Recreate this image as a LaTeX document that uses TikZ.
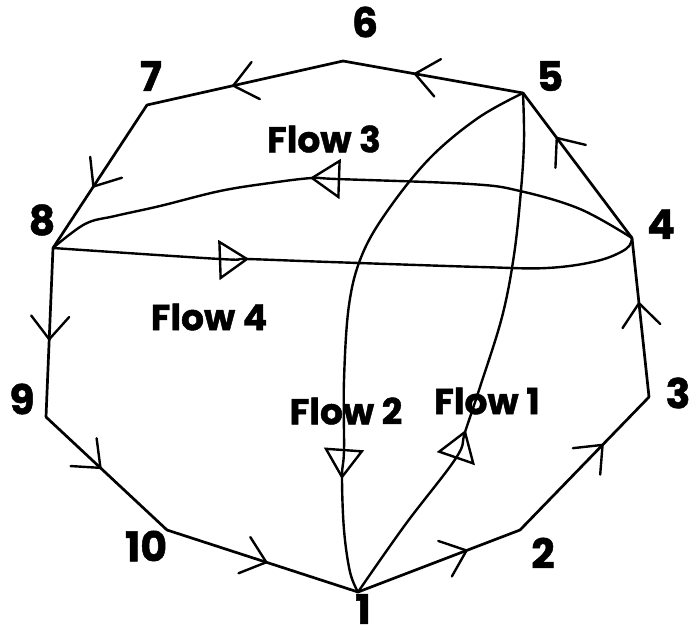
\documentclass[tikz,border=0pt]{standalone}
\usepackage{fontspec}
\setmainfont{Poppins}[BoldFeatures={FakeBold=1.2}]
\usetikzlibrary{decorations.markings}
\begin{document}
\begin{tikzpicture}[x=1pt,y=-1pt,
  edge/.style={line width=2.7pt, line cap=round},
  flow/.style={line width=2.4pt, line cap=round},
  chev/.style={postaction={decorate},
    decoration={markings, mark=at position #1 with
      {\draw[line width=2.4pt, line cap=round, line join=miter] (-23,19) -- (0,0) -- (-23,-19);}}},
  vlabel/.style={font=\bfseries\fontsize{41}{41}\selectfont, inner sep=0pt},
  flabel/.style={font=\bfseries\fontsize{36}{36}\selectfont, inner sep=0pt},
  flowtri/.pic={\draw[line width=2.4pt, line join=miter] (0,0) -- (-27,18) -- (-27,-18) -- cycle;}
]
\useasboundingbox (0,0) rectangle (690,638);

% vertices of the decagon
\coordinate (v1) at (358,592);
\coordinate (v2) at (520,530);
\coordinate (v3) at (649,397);
\coordinate (v4) at (632,238);
\coordinate (v5) at (523,93);
\coordinate (v6) at (343,61);
\coordinate (v7) at (147,105);
\coordinate (v8) at (53,248);
\coordinate (v9) at (46,417);
\coordinate (v10) at (167,530);

% vertex numbers
\node[vlabel] (n1) at (363,609) {1};
\node[vlabel] (n2) at (543,553) {2};
\node[vlabel] (n3) at (678,393) {3};
\node[vlabel] (n4) at (661,224) {4};
\node[vlabel] (n5) at (550,76) {5};
\node[vlabel] (n6) at (365,22) {6};
\node[vlabel] (n7) at (151,76) {7};
\node[vlabel] (n8) at (42,220) {8};
\node[vlabel] (n9) at (22,399) {9};
\node[vlabel] (n10) at (146,546) {10};

% outer cycle with direction marks
\draw[edge, chev=0.67] (v1) -- (v2);
\draw[edge, chev=0.64] (v2) -- (v3);
\draw[edge, chev=0.59] (v3) -- (v4);
\draw[edge, chev=0.69] (v4) -- (v5);
\draw[edge, chev=0.60] (v5) -- (v6);
\draw[edge, chev=0.56] (v6) -- (v7);
\draw[edge, chev=0.57] (v7) -- (v8);
\draw[edge, chev=0.54] (v8) -- (v9);
\draw[edge, chev=0.45] (v9) -- (v10);
\draw[edge, chev=0.52] (v10) -- (v1);

% flow arrow positions
\coordinate (t1) at (465,432);
\coordinate (b1) at (456,458);
\coordinate (t2) at (342,477);
\coordinate (b2) at (344,450);
\coordinate (t3) at (312,178);
\coordinate (b3) at (337,179);
\coordinate (t4) at (247,259);
\coordinate (b4) at (220,259);

% Flow 1: from 1 up to 5
\draw[flow] plot[smooth, tension=0.6] coordinates
  {(v1) (405,525) (b1) (t1) (480,387) (502,317) (514,255) (521,190) (524,140) (v5)};
% Flow 2: from 5 down to 1
\draw[flow] plot[smooth, tension=0.6] coordinates
  {(v5) (478,118) (430,158) (388,210) (362,255) (349,305) (344,380) (b2) (t2) (344,530) (350,572) (v1)};
% Flow 3: from 4 across to 8
\draw[flow] plot[smooth, tension=0.6] coordinates
  {(v4) (580,209) (520,191) (470,184) (b3) (t3) (270,183) (220,191) (160,206) (115,216) (85,224) (v8)};
% Flow 4: from 8 across to 4
\draw[flow] plot[smooth, tension=0.6] coordinates
  {(v8) (b4) (t4) (330,262) (480,267) (547,268) (597,261) (626,249) (v4)};

\pic[rotate=71] at (t1) {flowtri};
\pic[rotate=-94] at (t2) {flowtri};
\pic[rotate=178] at (t3) {flowtri};
\pic[rotate=2] at (t4) {flowtri};

% flow labels
\node[flabel] (f1) at (487,401) {Flow 1};
\node[flabel] (f2) at (346,411) {Flow 2};
\node[flabel] (f3) at (324,139) {Flow 3};
\node[flabel] (f4) at (209,317) {Flow 4};
\end{tikzpicture}
\end{document}
